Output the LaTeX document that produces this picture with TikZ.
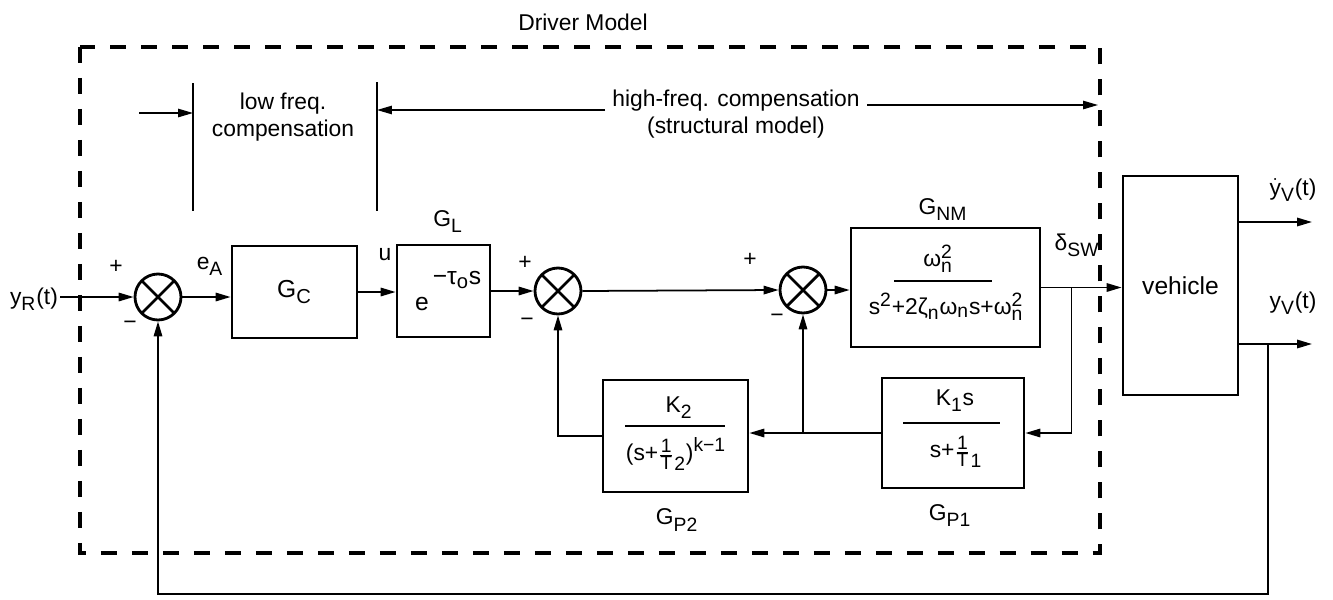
\documentclass[tikz,border=0pt]{standalone}
\usepackage{fontspec}
\setmainfont{Liberation Sans}
\usepackage{amsmath}
\DeclareMathSizes{13}{13}{11}{8}
\DeclareMathSizes{14}{14}{11.5}{9}
\usetikzlibrary{arrows.meta,calc}
\newcommand\T[1]{\text{#1}}
\begin{document}
\begin{tikzpicture}[x=0.02cm,y=-0.02cm,
  font=\fontsize{13}{15.5}\selectfont,
  every node/.style={inner sep=1pt},
  conn/.style={line width=1pt},
  arr/.style={conn,-{Triangle[length=8.5pt,width=4.8pt]}},
  thinln/.style={line width=0.7pt},
  blk/.style={draw,line width=1.6pt,inner sep=0pt},
  boxtxt/.style={font=\fontsize{14}{16}\selectfont},
  sumj/.style={circle,draw,line width=1.6pt,minimum size=0.92cm,inner sep=0pt,
    path picture={\draw[line width=1.6pt]
      (path picture bounding box.north west) -- (path picture bounding box.south east)
      (path picture bounding box.north east) -- (path picture bounding box.south west);}},
  dashbox/.style={line width=1.8pt,dash pattern=on 0.32cm off 0.3cm}]
\useasboundingbox (0,0) rectangle (1333,599);

% driver model frame
\coordinate (dmTL) at (80,47);
\coordinate (dmBR) at (1100,553);
\draw[dashbox] (dmTL) rectangle (dmBR);
\node (title) at (583,22) {Driver Model};

% compensation annotations
\node[align=center] (lowf) at (283,117) {low freq.\\compensation};
\coordinate (v1t) at (193,83); \coordinate (v1b) at (193,211);
\coordinate (v2t) at (377,82); \coordinate (v2b) at (377,211);
\draw[thinln] (v1t) -- (v1b);
\draw[thinln] (v2t) -- (v2b);
\coordinate (la) at (139,113);
\draw[arr,thinln] (la) -- (la -| v1t);
\node[align=center] (highf) at (736,114) {high-freq. compensation\\(structural model)};
\coordinate (ha) at (605,110);
\draw[arr,thinln] (ha) -- (ha -| v2t);
\coordinate (hb) at (867,105); \coordinate (hbe) at (1098,105);
\draw[arr,thinln] (hb) -- (hbe);

% forward path
\node[anchor=east] (yR) at (60,299) {$\T{y}_{\T{R}}\T{(t)}$};
\node[sumj] (s1) at (158,297) {};
\node (p1) at (116,267) {+};
\node (m1) at (130,325) {−};
\node (eA) at (210,266) {$\T{e}_{\T{A}}$};
\node[blk,boxtxt,minimum width=2.5cm,minimum height=1.84cm] (GC) at (294.5,292) {$\T{G}_{\T{C}}$};
\node (u) at (385,255) {u};
\node[blk,minimum width=1.86cm,minimum height=1.84cm] (GL) at (443.5,291) {};
\node (GLlab) at (448,222) {$\T{G}_{\T{L}}$};
\node[boxtxt] (GLe) at (422,304) {e};
\node[boxtxt] (GLx) at (457,280) {$\T{−τ}_{\T{o}}\T{s}$};
\node[sumj] (s2) at (558,291) {};
\node (p2) at (525,263) {+};
\node (m2) at (527,322) {−};
\node[sumj] (s3) at (803,290) {};
\node (p3) at (750,260) {+};
\node (m3) at (777,318) {−};
\node[blk,minimum width=3.78cm,minimum height=2.38cm] (GNM) at (945.5,287.5) {};
\node (GNMlab) at (943,210) {$\T{G}_{\T{NM}}$};
\node (GNMnum) at (938,259) {$\T{ω}^{\T{2}}_{\T{n}}$};
\coordinate (fb1a) at (894,281); \coordinate (fb1b) at (992,281);
\draw[thinln] (fb1a) -- (fb1b);
\node (GNMden) at (946,307) {$\T{s}^{\T{2}}\T{+2ζ}_{\T{n}}\T{ω}_{\T{n}}\T{s+ω}^{\T{2}}_{\T{n}}$};
\node (dsw) at (1077,245) {$\T{δ}_{\T{SW}}$};
\node[blk,boxtxt,minimum width=2.3cm,minimum height=4.38cm] (veh) at (1180.5,285.5) {vehicle};
\node (ydl) at (1293,190) {$\dot{\T{y}}_{\T{V}}\T{(t)}$};
\node (yvl) at (1293,303) {$\T{y}_{\T{V}}\T{(t)}$};

% feedback blocks
\node[blk,minimum width=2.84cm,minimum height=2.2cm] (GP1) at (953,433) {};
\node (GP1num) at (955,401) {$\T{K}_{\T{1}}\T{s}$};
\coordinate (fb2a) at (903,423); \coordinate (fb2b) at (1000,423);
\draw[thinln] (fb2a) -- (fb2b);
\node (GP1den) at (956,452) {$\T{s+}\genfrac{}{}{0.5pt}{}{\T{1}}{\T{T}}_{\T{1}}$};
\node (GP1lab) at (950,516) {$\T{G}_{\T{P1}}$};
\node[blk,minimum width=2.9cm,minimum height=2.24cm] (GP2) at (675.5,436) {};
\node (GP2num) at (679,408) {$\T{K}_{\T{2}}$};
\coordinate (fb3a) at (625,426); \coordinate (fb3b) at (725,426);
\draw[thinln] (fb3a) -- (fb3b);
\node (GP2den) at (676,454) {$\T{(s+}\genfrac{}{}{0.5pt}{}{\T{1}}{\T{T}}_{\T{2}}\T{)}^{\T{k−1}}$};
\node (GP2lab) at (677,520) {$\T{G}_{\T{P2}}$};

% connectors
\draw[arr] (yR.east |- s1) -- (s1.west);
\draw[arr] (s1.east) -- (s1.east -| GC.west);
\draw[arr] (GC.east) -- (GC.east -| GL.west);
\draw[arr] (GL.east |- s2) -- (s2.west);
\draw[arr] (s2.east) -- (s3.west);
\draw[arr] (s3.east) -- (s3.east -| GNM.west);
\draw[arr] (GNM.east) -- (GNM.east -| veh.west);
\path (GNM.east) ++(30,0) coordinate (b1);
\draw[arr] (b1) |- (GP1.east);
\draw[arr] (GP1.west) -- (GP1.west -| GP2.east);
\coordinate (b2) at (s3 |- GP1.west);
\draw[arr] (b2) -- (s3.south);
\draw[arr] (GP2.west) -| (s2.south);
\coordinate (yd) at (1312,222);
\draw[arr] (yd -| veh.east) -- (yd);
\coordinate (yo) at (1312,344);
\draw[arr] (yo -| veh.east) -- (yo);
\coordinate (b4) at (1268,344);
\coordinate (b5) at (1268,594);
\draw[arr] (b4) -- (b5) -| (s1.south);
\end{tikzpicture}
\end{document}
